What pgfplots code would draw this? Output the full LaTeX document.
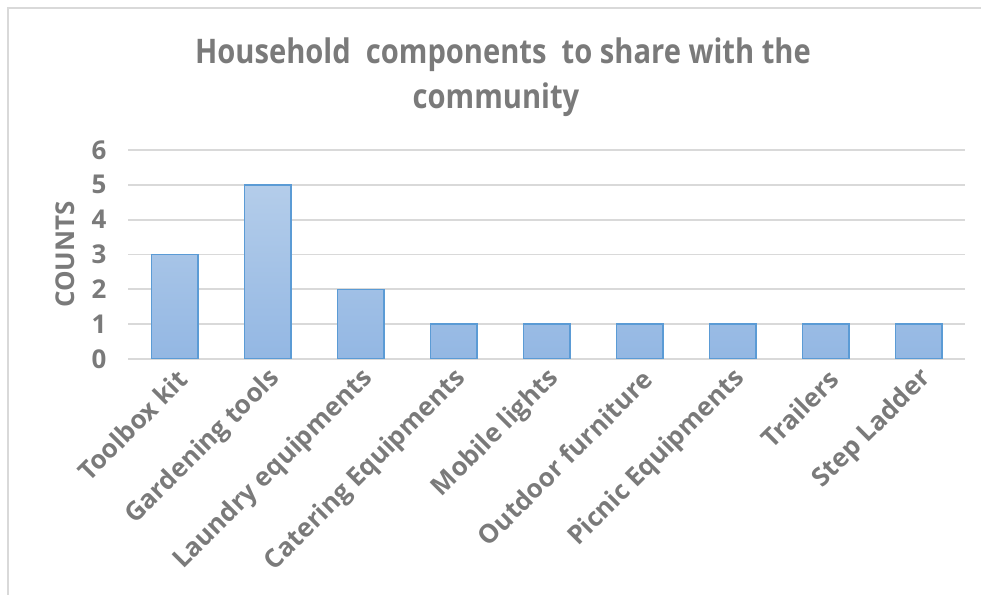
\documentclass[border=0pt]{standalone}
\usepackage{pgfplots}
\pgfplotsset{compat=1.18}
\usepackage{fontspec}
\setmainfont{Open Sans}
\definecolor{txtgray}{HTML}{7A7A7A}
\definecolor{gridgray}{HTML}{D9D9D9}
\definecolor{barline}{HTML}{5B9BD5}
\definecolor{bartop}{HTML}{B4CDEA}
\definecolor{barbot}{HTML}{93B7E3}
\definecolor{framegray}{HTML}{D9D9D9}
\begin{document}
\begin{tikzpicture}[x=1bp,y=1bp]
\useasboundingbox (0,0) rectangle (981,595);
\draw[framegray, line width=1.5bp] (8,-10) -- (8,587) -- (995,587);
\node[txtgray, font=\fontsize{34}{40}\selectfont\bfseries] at (503,540) {\scalebox{0.86}[1]{Household\ \ components\ \ to share with the}};
\node[txtgray, font=\fontsize{34}{40}\selectfont\bfseries] at (496,495) {\scalebox{0.86}[1]{community}};
\begin{axis}[
  at={(128bp,236bp)}, anchor=south west,
  scale only axis, width=837bp, height=209bp,
  xmin=-0.5, xmax=8.5, ymin=0, ymax=6,
  ybar, bar width=0.5,
  axis line style={draw=none},
  major tick length=0pt,
  ymajorgrids, grid style={gridgray, line width=1.8bp},
  ytick={0,1,2,3,4,5,6},
  xtick={0,...,8},
  xticklabels={Toolbox kit, Gardening tools, Laundry equipments, Catering Equipments, Mobile lights, Outdoor furniture, Picnic Equipments, Trailers, Step Ladder},
  /pgf/number format/assume math mode=true,
  ticklabel style={font=\fontsize{26}{30}\selectfont\bfseries, text=txtgray},
  yticklabel style={xshift=-18bp},
  xticklabel style={rotate=45, anchor=east, xshift=-2bp, yshift=-17bp},
  ylabel={COUNTS},
  ylabel style={font=\fontsize{26}{30}\selectfont\bfseries, text=txtgray, yshift=10bp},
]
\addplot[draw=barline, line width=1.5bp, top color=bartop, bottom color=barbot] coordinates {
(0,3) (1,5) (2,2) (3,1) (4,1) (5,1) (6,1) (7,1) (8,1)};
\end{axis}
\end{tikzpicture}
\end{document}
